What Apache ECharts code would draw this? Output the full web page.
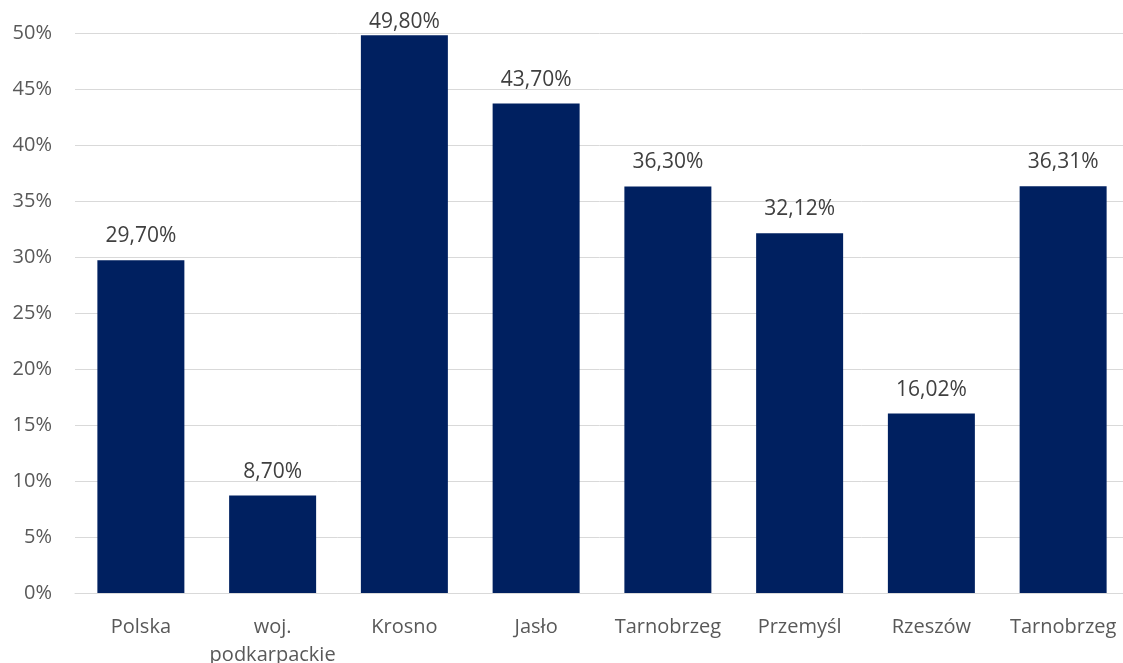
<!DOCTYPE html>
<html>
<head>
<meta charset="utf-8">
<script src="https://cdn.jsdelivr.net/npm/echarts@6/dist/echarts.min.js"></script>
<style>
  html, body { margin: 0; padding: 0; background: #fff; }
  #main { width: 1123px; height: 663px; }
</style>
</head>
<body>
<div id="main"></div>
<script>
// dane
var categories = ['Polska', 'woj.\npodkarpackie', 'Krosno', 'Jasło', 'Tarnobrzeg', 'Przemyśl', 'Rzeszów', 'Tarnobrzeg'];
var values = [29.70, 8.70, 49.80, 43.70, 36.30, 32.12, 16.02, 36.31];

var myChart = echarts.init(document.getElementById('main'));

// etykieta najwyższego słupka przesunięta bliżej, żeby zmieściła się w obrazie
var seriesData = values.map(function (v) {
    if (v >= 49) {
        return { value: v, label: { distance: 1 } };
    }
    return v;
});

var option = {
    animation: false,
    grid: {
        left: 75,
        top: 33,
        width: 1054,
        height: 560,
        outerBoundsMode: 'none',
        containLabel: false
    },
    xAxis: {
        type: 'category',
        data: categories,
        axisTick: { show: false },
        axisLine: { lineStyle: { color: '#d9d9d9', width: 1 } },
        axisLabel: {
            color: '#595959',
            fontSize: 20,
            fontFamily: 'Open Sans',
            margin: 20,
            lineHeight: 28,
            interval: 0
        }
    },
    yAxis: {
        type: 'value',
        min: 0,
        max: 50,
        interval: 5,
        axisLine: { show: false },
        axisTick: { show: false },
        splitLine: { lineStyle: { color: '#d9d9d9', width: 1 } },
        axisLabel: {
            color: '#595959',
            fontSize: 20,
            fontFamily: 'Open Sans',
            margin: 23,
            formatter: '{value}%'
        }
    },
    series: [
        {
            type: 'bar',
            data: seriesData,
            barWidth: 87,
            itemStyle: { color: '#002060' },
            label: {
                show: true,
                position: 'top',
                distance: 12,
                color: '#404040',
                fontSize: 21,
                lineHeight: 24,
                fontFamily: 'Open Sans',
                formatter: function (p) {
                    return p.value.toFixed(2).replace('.', ',') + '%';
                }
            }
        }
    ]
};

option && myChart.setOption(option);
</script>
</body>
</html>
